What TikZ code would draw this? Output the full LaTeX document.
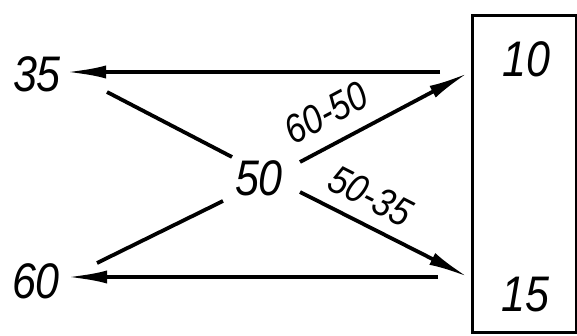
\documentclass[tikz,border=0pt]{standalone}
\usepackage{fontspec}
\setmainfont{Liberation Sans}
\newfontfamily\digitfont[FakeStretch=0.86]{Liberation Sans}
\usetikzlibrary{arrows.meta}
\begin{document}
\begin{tikzpicture}[x=1pt,y=-1pt,
  lbl/.style={font=\digitfont\fontsize{50}{50}\selectfont\itshape, inner sep=0pt},
  slbl/.style={font=\digitfont\fontsize{40}{40}\selectfont\itshape, inner sep=0pt},
  ln/.style={line width=3.8pt},
  arr/.style={ln, -{Latex[length=40pt,width=13pt]}}]
\useasboundingbox (0,0) rectangle (577,336);
\node[draw, line width=3pt, minimum width=104pt, minimum height=317pt,
      inner sep=0pt, anchor=north west] (box) at (471,14) {};
\coordinate (t1) at (468,73);
\coordinate (t2) at (468,277);
\coordinate (h1) at (440,72);
\coordinate (h2) at (438,277);
\coordinate (s1) at (300,162);
\coordinate (s2) at (300,192);
\coordinate (a1) at (107,92);
\coordinate (a2) at (232,157);
\coordinate (b1) at (223,201);
\coordinate (b2) at (97,263);
\coordinate (e1) at (66,72);
\coordinate (e2) at (67,277);
\node[lbl] (n35) at (37,74) {35};
\node[lbl] (n60) at (36,281) {60};
\node[lbl] (n50) at (259,178) {50};
\node[lbl] (n10) at (526,59) {10};
\node[lbl] (n15) at (525,295) {15};
\draw[arr] (h1) -- (e1);
\draw[arr] (h2) -- (e2);
\draw[ln] (a1) -- (a2);
\draw[ln] (b1) -- (b2);
\draw[arr] (s1) -- (t1);
\draw[arr] (s2) -- (t2);
\node[slbl, rotate=28] (d1) at (326,113) {60-50};
\node[slbl, rotate=-27] (d2) at (371,196) {50-35};
\end{tikzpicture}
\end{document}
